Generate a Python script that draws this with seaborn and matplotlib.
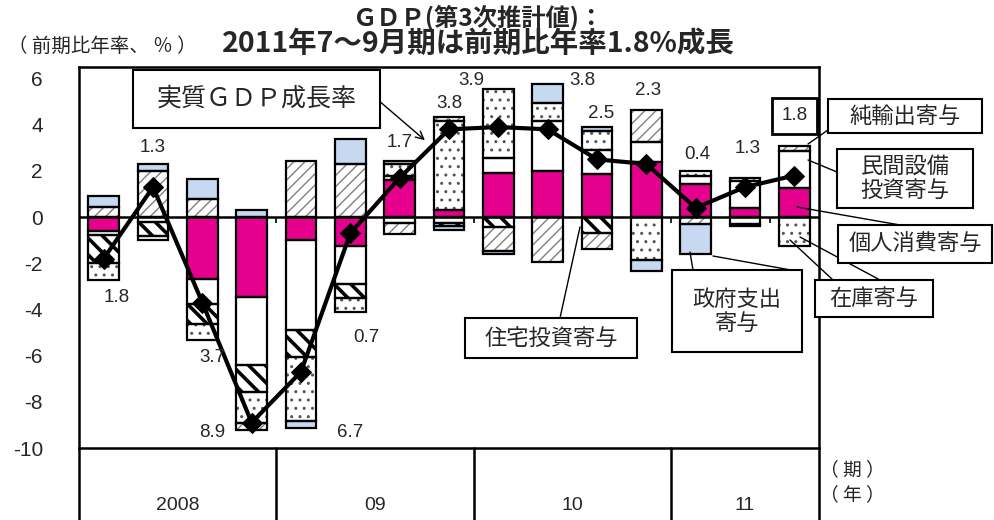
import matplotlib
matplotlib.use("Agg")
import matplotlib.pyplot as plt
from matplotlib.patches import Rectangle
from matplotlib.lines import Line2D
import numpy as np
import seaborn as sns

# 四半期（2008年1-3月期～2011年7-9月期）
quarters = ["08Q1", "08Q2", "08Q3", "08Q4", "09Q1", "09Q2", "09Q3", "09Q4",
            "10Q1", "10Q2", "10Q3", "10Q4", "11Q1", "11Q2", "11Q3"]
years = ["2008", "09", "10", "11"]
gdp = [-1.8, 1.3, -3.7, -8.9, -6.7, -0.7, 1.7, 3.8, 3.9, 3.8, 2.5, 2.3, 0.4, 1.3, 1.8]

# 寄与度（前期比年率、%）
kojin = [-0.6, 0.0, -2.67, -3.46, -1.0, -1.25, 1.6, 0.3, 1.9, 2.0, 1.85, 2.4, 1.45, 0.4, 1.25]
setsubi = [-0.17, -0.2, -1.08, -2.95, -3.9, -1.65, -0.25, -0.25, 0.65, 2.15, 1.05, 0.85, 0.35, 1.15, 1.6]
jutaku = [-1.2, -0.6, -0.87, -1.15, -1.15, -0.6, 0.2, -0.12, -0.45, 0.0, -0.7, 0.0, 0.0, 0.0, 0.0]
zaiko = [-0.75, -0.2, -0.72, -1.37, -2.8, -0.6, 0.5, 3.85, 3.0, 0.8, 0.85, -1.85, 0.2, -0.3, -1.27]
yushutsu = [0.43, 2.0, 0.8, -0.27, 2.45, 2.3, -0.5, 0.2, -1.0, -1.95, -0.7, 1.4, -0.3, 0.15, 0.22]
seifu = [0.5, 0.3, 0.87, 0.3, -0.3, 1.1, 0.15, -0.18, -0.17, 0.8, 0.15, -0.5, -1.3, -0.1, 0.0]

# 系列ごとの見た目 (値, 塗り, ハッチ, ハッチ色, ハッチ線幅)
series = [
    (kojin, "#E6008E", None, "black", 1.0),
    (setsubi, "white", None, "black", 1.0),
    (jutaku, "white", "\\\\", "black", 2.6),
    (zaiko, "white", "..", "#555555", 1.0),
    (yushutsu, "white", "///", "#808080", 1.0),
    (seifu, "#C6D9F1", None, "black", 1.0),
]

sns.set_style("white")
plt.rcParams["font.family"] = ["Liberation Sans", "Noto Sans CJK JP"]

W, H = 994, 520
fig = plt.figure(figsize=(W / 100, H / 100), dpi=100)
ax = fig.add_axes([79 / W, 1 - 448 / H, 740 / W, 381 / H])

x = np.arange(len(quarters))
pos_base = np.zeros(len(x))
neg_base = np.zeros(len(x))
bw = 0.62
for vals, face, hatch, hcol, hlw in series:
    v = np.array(vals)
    bottoms = np.where(v >= 0, pos_base, neg_base)
    m = v != 0
    plt.rcParams["hatch.linewidth"] = hlw
    bars = ax.bar(x[m], v[m], bottom=bottoms[m], width=bw, color=face,
                  hatch=hatch, edgecolor=hcol, linewidth=0, zorder=2)
    for b in bars:
        if hasattr(b, "set_hatch_linewidth"):
            b.set_hatch_linewidth(hlw)
    ax.bar(x[m], v[m], bottom=bottoms[m], width=bw, fill=False,
           edgecolor="black", linewidth=1.6, zorder=3)
    pos_base = pos_base + np.where(v > 0, v, 0)
    neg_base = neg_base + np.where(v < 0, v, 0)

ax.axhline(0, color="black", lw=1.8, zorder=4)
ax.vlines([3.5, 7.5, 11.5, 13.5], -0.25, 0, color="black", lw=1.2, zorder=4)

sns.lineplot(x=x, y=gdp, ax=ax, color="black", lw=3, marker="D",
             markersize=10, markeredgecolor="black", zorder=6, legend=False)

ax.set_xlim(-0.5, 14.5)
ax.set_ylim(-10, 6.5)
ax.set_yticks(range(-10, 7, 2))
ax.set_yticklabels([str(t) for t in range(-10, 7, 2)])
ax.set_xticks([])
ax.tick_params(axis="y", direction="in", length=6, width=1.5, pad=26, labelsize=15)
for s in ax.spines.values():
    s.set_linewidth(1.8)
    s.set_color("black")
ax.set_xlabel("")
ax.set_ylabel("")

# 年の区切り（軸の下）
trans = ax.get_xaxis_transform()
for xb in [-0.5, 3.5, 7.5, 11.5, 14.5]:
    ax.plot([xb, xb], [0, -72 / 381], color="black", lw=1.8,
            transform=trans, clip_on=False)
for yr, xc in zip(years, [1.5, 5.5, 9.5, 13.0]):
    ax.text(xc, -57 / 381, yr, transform=trans, ha="center", va="center", fontsize=14)

# GDP成長率の数値ラベル
label_pos = [(0.27, -3.5), (1.0, 3.0), (2.21, -6.1), (2.19, -9.35), (5.0, -9.35),
             (5.33, -5.2), (6.0, 3.25), (7.0, 4.9), (7.45, 5.9), (9.7, 5.9),
             (10.08, 4.5), (11.04, 5.5), (12.03, 2.7), (13.06, 2.95)]
for (lx, ly), v in zip(label_pos, gdp[:-1]):
    ax.text(lx, ly, f"{abs(v):.1f}", ha="center", va="center", fontsize=13.5, zorder=7)
ax.text(14.0, 4.38, f"{gdp[-1]:.1f}", ha="center", va="center", fontsize=13.5, zorder=7,
        bbox=dict(boxstyle="square,pad=0.5", fc="white", ec="black", lw=2))


def fx(px):
    return px / W


def fy(py):
    return 1 - py / H


# タイトル
fig.text(fx(478), fy(18), "ＧＤＰ(第3次推計値)：", ha="center", va="center",
         fontsize=17.5, fontweight="bold", family=["Noto Sans CJK JP"])
fig.text(fx(478), fy(44), "2011年7～9月期は前期比年率1.8%成長", ha="center", va="center",
         fontsize=20.5, fontweight="bold", family=["Noto Sans CJK JP"])
fig.text(fx(8), fy(46), "（ 前期比年率、 ％ ）", ha="left", va="center", fontsize=14,
         family=["Noto Sans CJK JP"])
fig.text(fx(820), fy(470), "（ 期 ）", ha="left", va="center", fontsize=13.5,
         family=["Noto Sans CJK JP"])
fig.text(fx(820), fy(495), "（ 年 ）", ha="left", va="center", fontsize=13.5,
         family=["Noto Sans CJK JP"])

# 吹き出しの箱
boxes = [
    ("実質ＧＤＰ成長率", (133, 70, 380, 128), 18),
    ("純輸出寄与", (828, 99, 982, 133), 16),
    ("民間設備\n投資寄与", (837, 149, 973, 208), 16),
    ("個人消費寄与", (838, 225, 992, 263), 16),
    ("在庫寄与", (815, 280, 933, 317), 16),
    ("政府支出\n寄与", (672, 270, 802, 352), 16),
    ("住宅投資寄与", (465, 318, 637, 358), 16),
]
for txt, (x0, y0, x1, y1), fs in boxes:
    fig.add_artist(Rectangle((fx(x0), fy(y1)), fx(x1 - x0), (y1 - y0) / H,
                             transform=fig.transFigure, fc="white", ec="black",
                             lw=1.5, zorder=8))
    fig.text(fx((x0 + x1) / 2), fy((y0 + y1) / 2), txt, ha="center", va="center",
             fontsize=fs, linespacing=1.05, family=["Noto Sans CJK JP"], zorder=9)

# 引き出し線
leaders = [
    ((828, 130), (808, 144)),
    ((837, 172), (808, 160)),
    ((900, 225), (797, 207)),
    ((833, 280), (790, 240)),
    ((880, 280), (800, 237)),
    ((693, 270), (690, 252)),
    ((802, 272), (713, 256)),
    ((560, 318), (580, 227)),
]
for (ax0, ay0), (ax1, ay1) in leaders:
    fig.add_artist(Line2D([fx(ax0), fx(ax1)], [fy(ay0), fy(ay1)],
                          transform=fig.transFigure, color="black", lw=1.0, zorder=7))
fig.add_artist(matplotlib.patches.FancyArrowPatch(
    (fx(378), fy(100)), (fx(427), fy(142)), transform=fig.transFigure,
    arrowstyle="->", mutation_scale=14, color="black", lw=1.0, zorder=7))

fig.savefig("out.png", dpi=100)
